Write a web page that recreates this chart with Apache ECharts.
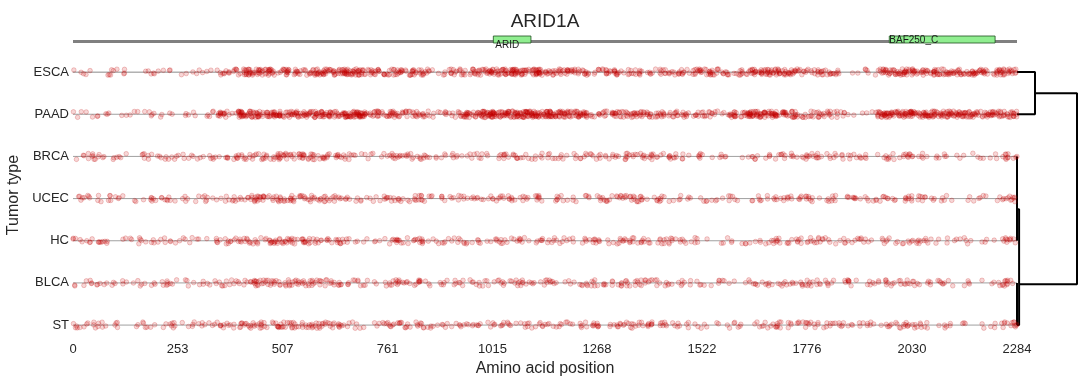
<!DOCTYPE html>
<html><head><meta charset="utf-8">
<script src="https://cdn.jsdelivr.net/npm/echarts@6/dist/echarts.min.js"></script>
<style>html,body{margin:0;padding:0;background:#fff}#c{width:1090px;height:385px}</style>
</head><body><div id="c"></div>
<script>
const geneName = 'ARID1A';
const geneLength = 2284;
const tumorTypes = ['ESCA', 'PAAD', 'BRCA', 'UCEC', 'HC', 'BLCA', 'ST'];
const xTickLabels = [0, 253, 507, 761, 1015, 1268, 1522, 1776, 2030, 2284];

// mutation counts per 50-aa bin (bins 0..45)
const binSize = 50;
const countsESCA = [5,5,4,5,4,4,5,14,30,26,24,24,27,42,20,24,22,10,17,20,33,36,33,24,21,14,17,14,14,13,27,14,20,30,30,14,20,5,6,27,30,27,27,24,24,18];
const countsPAAD = [5,5,4,6,4,5,5,18,45,33,30,30,33,48,27,24,20,9,17,33,45,48,45,42,33,14,24,27,17,17,17,14,33,39,30,14,20,6,8,39,39,36,36,30,30,20];
const countsBRCA = [8,8,4,7,8,7,8,10,13,17,18,18,16,9,5,13,13,7,7,8,10,10,9,8,8,10,12,13,12,8,7,5,4,8,10,12,10,8,7,8,12,7,5,4,5,10];
const countsUCEC = [8,7,5,8,8,5,8,9,16,17,17,16,14,8,5,14,12,8,8,8,10,12,9,8,7,10,12,13,10,7,5,7,4,8,10,12,9,8,7,9,12,7,5,5,5,10];
const countsHC   = [9,8,4,8,7,5,7,9,16,16,17,18,13,7,5,13,13,7,8,7,10,10,8,9,8,10,12,12,12,7,5,5,4,8,10,13,9,8,7,8,10,8,5,5,4,10];
const countsBLCA = [7,7,5,7,8,5,7,10,16,16,17,17,14,8,5,14,12,7,8,8,9,12,9,8,8,10,13,12,10,7,5,7,4,9,10,12,9,9,7,9,12,7,5,5,5,10];
const countsST   = [9,7,4,8,8,5,8,10,16,17,17,17,16,8,5,13,13,7,8,8,9,10,9,8,8,10,12,13,10,8,5,5,5,8,12,12,9,8,8,9,12,7,5,4,5,12];

// protein domains
const domainNames = ['ARID', 'BAF250_C'];
const domainStarts = [1017, 1975];
const domainEnds = [1108, 2231];

// dendrogram merges (leaves 0..6 = tumorTypes order; merge k gets id 7+k), node rows
const dendroLeft   = [5, 2, 8, 9, 0, 11];
const dendroRight  = [6, 3, 4, 7, 1, 10];
const dendroHeight = [0.0, 0.0, 0.0, 0.035, 0.30, 1.0];
const dendroNodeRow = [6.0, 2.5, 3.25, 5.03, 0.5, 2.8];

const rowsCounts = [countsESCA, countsPAAD, countsBRCA, countsUCEC, countsHC, countsBLCA, countsST];

// deterministic integer hash for within-bin placement / strip jitter
function hash(n) {
  let t = Math.imul(n, 0x9E3779B1) >>> 0;
  t ^= t >>> 15; t = Math.imul(t, 0x85EBCA77) >>> 0;
  t ^= t >>> 13; t = Math.imul(t, 0xC2B2AE3D) >>> 0;
  t ^= t >>> 16;
  return (t >>> 0) / 4294967296;
}
let g = 0;
const scatterSeries = rowsCounts.map((counts, r) => {
  const pts = [];
  counts.forEach((c, i) => {
    const s = i * binSize, e = Math.min(geneLength, s + binSize);
    for (let k = 0; k < c; k++) {
      g++;
      pts.push([s + (e - s) * hash(g), r + (hash(g + 77777) * 2 - 1) * 0.075]);
    }
  });
  return {
    type: 'scatter', xAxisIndex: 0, yAxisIndex: 0, data: pts, symbol: 'circle', symbolSize: 4.6,
    itemStyle: { color: 'rgba(205,0,0,0.2)', borderColor: 'rgba(190,0,0,0.45)', borderWidth: 0.6 },
    silent: true, z: 3
  };
});

const rowLineSeries = tumorTypes.map((t, r) => ({
  type: 'line', xAxisIndex: 0, yAxisIndex: 0, data: [[0, r], [geneLength, r]],
  symbol: 'none', lineStyle: { color: '#a0a0a0', width: 1 }, silent: true, z: 2
}));

// dendrogram geometry
const nodeY = tumorTypes.map((t, i) => i);
const nodeH = tumorTypes.map(() => 0);
const dendroSeries = [];
dendroLeft.forEach((l, k) => {
  const r = dendroRight[k], h = dendroHeight[k];
  nodeY.push(dendroNodeRow[k]);
  nodeH.push(h);
  dendroSeries.push({
    type: 'line', xAxisIndex: 2, yAxisIndex: 2,
    data: [[nodeH[l], nodeY[l]], [h, nodeY[l]], [h, nodeY[r]], [nodeH[r], nodeY[r]]],
    symbol: 'none', lineStyle: { color: '#000', width: 2 }, silent: true, clip: false
  });
});

const font = '"Liberation Sans", Arial, sans-serif';
const txt = '#262626';

const option = {
  animation: false,
  backgroundColor: '#fff',
  textStyle: { fontFamily: font },
  title: { text: geneName, left: 'center', top: 7, textStyle: { fontSize: 19, fontWeight: 'normal', color: txt, fontFamily: font } },
  grid: [
    { left: 73, right: 73, top: 51, bottom: 46, outerBoundsMode: 'none' },
    { left: 73, right: 73, top: 31.5, height: 20, outerBoundsMode: 'none' },
    { left: 1017, right: 13, top: 51, bottom: 46, outerBoundsMode: 'none' }
  ],
  xAxis: [
    { gridIndex: 0, type: 'value', min: 0, max: geneLength,
      axisLine: { show: true, lineStyle: { color: '#cccccc', width: 1 } }, axisTick: { show: false }, splitLine: { show: false },
      axisLabel: { customValues: xTickLabels, formatter: v => String(v), fontSize: 13, color: txt, margin: 4, fontFamily: font },
      name: 'Amino acid position', nameLocation: 'middle', nameGap: 22,
      nameTextStyle: { fontSize: 16, color: txt, fontFamily: font } },
    { gridIndex: 1, type: 'value', min: 0, max: geneLength, show: false },
    { gridIndex: 2, type: 'value', min: 0, max: 1, show: false }
  ],
  yAxis: [
    { gridIndex: 0, type: 'value', inverse: true, min: -0.5, max: 6.33,
      axisLine: { show: false }, axisTick: { show: false }, splitLine: { show: false },
      axisLabel: { customValues: tumorTypes.map((t, i) => i), formatter: v => tumorTypes[Math.round(v)], fontSize: 13, color: txt, margin: 4, fontFamily: font },
      name: 'Tumor type', nameLocation: 'middle', nameGap: 51,
      nameTextStyle: { fontSize: 16, color: txt, fontFamily: font } },
    { gridIndex: 1, type: 'value', min: -1, max: 1, show: false },
    { gridIndex: 2, type: 'value', inverse: true, min: -0.5, max: 6.33, show: false }
  ],
  series: [
    ...rowLineSeries,
    ...scatterSeries,
    { type: 'line', xAxisIndex: 1, yAxisIndex: 1, data: [[0, 0], [geneLength, 0]], symbol: 'none',
      lineStyle: { color: '#808080', width: 3 }, silent: true, z: 2 },
    { type: 'custom', xAxisIndex: 1, yAxisIndex: 1, silent: true, z: 4,
      data: domainNames.map((n, i) => [domainStarts[i], domainEnds[i], i]),
      encode: { x: [0, 1] },
      renderItem: (params, api) => {
        const i = api.value(2);
        const p0 = api.coord([api.value(0), 0.55]);
        const p1 = api.coord([api.value(1), -0.15]);
        const below = i % 2 === 0;
        return { type: 'group', children: [
          { type: 'rect', shape: { x: p0[0], y: p0[1], width: p1[0] - p0[0], height: p1[1] - p0[1] },
            style: { fill: '#90EE90', stroke: '#1f4f1f', lineWidth: 0.8 } },
          { type: 'text', style: { text: domainNames[i], x: p0[0] + (below ? 2 : 0), y: below ? p1[1] + 2.5 : (p0[1] + p1[1]) / 2 + 0.5,
            textVerticalAlign: 'middle', textAlign: 'left', fill: '#1a1a1a', fontSize: 10, fontFamily: font } }
        ] };
      }
    },
    ...dendroSeries
  ]
};
echarts.init(document.getElementById('c'), null, { renderer: 'canvas' }).setOption(option);
</script>
</body></html>
